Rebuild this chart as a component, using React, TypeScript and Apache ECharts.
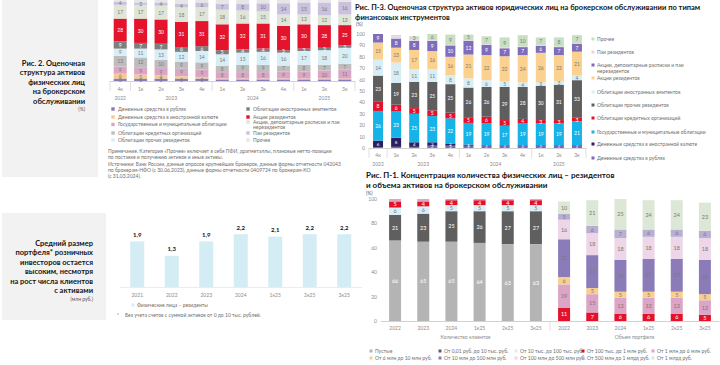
import React, { useEffect, useRef } from "react";
import * as echarts from "echarts";

const FONT = "Lato, 'Noto Sans', 'DejaVu Sans', sans-serif";
const GRAY_TXT = "#8c8c8c";
const DARK_TXT = "#151515";
const LIGHT_LBL = "#7a7a7a";

// ---------------- Fig. 2: structure of assets, individuals ----------------
const f2Cats = ["4к", "1к", "2к", "3к", "4к", "1к", "2к", "3к", "4к", "1к", "2к", "3к"];
const f2Years = ["2022", "2023", "2024", "2025"];
const f2YearGroups = [[0, 0], [1, 4], [5, 8], [9, 11]];
const f2Names = [
  "Денежные средства в рублях",
  "Денежные средства в иностранной валюте",
  "Государственные и муниципальные облигации",
  "Облигации кредитных организаций",
  "Облигации прочих резидентов",
  "Облигации иностранных эмитентов",
  "Акции резидентов",
  "Акции, депозитарные расписки и паи нерезидентов",
  "Паи резидентов",
  "Прочее",
];
const f2Colors = ["#8a7bb8", "#f7c98c", "#dba6c6", "#bdbdbd", "#d8eef6", "#7e7e7e", "#e3142c", "#dfe6d7", "#c9c1de", "#e6e6e6"];
const f2LabelColors = [LIGHT_LBL, LIGHT_LBL, LIGHT_LBL, LIGHT_LBL, LIGHT_LBL, "#ffffff", "#ffffff", LIGHT_LBL, LIGHT_LBL, LIGHT_LBL];
const f2MinLabel = [3, 4, 2, 2, 2, 2, 2, 2, 2, 99];
const f2Rub = [3, 3, 3, 3, 3, 2, 2, 2, 2, 2, 2, 2];
const f2Fx = [6, 5, 4, 3, 2, 1, 1, 1, 1, 1, 1, 1];
const f2Gov = [9, 9, 9, 9, 9, 8, 8, 8, 9, 9, 10, 11];
const f2Credit = [13, 12, 10, 9, 9, 8, 9, 9, 7, 8, 7, 7];
const f2OtherRes = [9, 11, 13, 12, 14, 14, 15, 16, 16, 17, 18, 20];
const f2Foreign = [9, 7, 7, 6, 6, 5, 4, 4, 3, 3, 3, 3];
const f2Shares = [28, 30, 30, 31, 31, 32, 32, 31, 30, 30, 28, 25];
const f2NonRes = [17, 17, 17, 18, 17, 18, 16, 15, 14, 12, 12, 13];
const f2Funds = [4, 3, 4, 4, 6, 7, 8, 10, 14, 15, 16, 16];
const f2Other = [2, 3, 3, 5, 3, 5, 5, 4, 4, 3, 3, 2];
const f2Data = [f2Rub, f2Fx, f2Gov, f2Credit, f2OtherRes, f2Foreign, f2Shares, f2NonRes, f2Funds, f2Other];
const f2Note = [
  "Примечание. Категория «Прочее» включает в себя ПФИ, драгметаллы, плановые нетто-позиции",
  "по поставке и получению активов и иные активы.",
  "Источники: Банк России, данные опросов крупнейших брокеров, данные формы отчетности 042043",
  "по брокерам-НФО (с 30.06.2023), данные формы отчетности 0409724 по брокерам-КО",
  "(с 31.03.2024).",
];
const f2Title = ["Рис. 2. Оценочная", "структура активов", "физических лиц", "на брокерском", "обслуживании"];

// ---------------- Average portfolio ----------------
const avgCats = ["2021", "2022", "2023", "2024", "1к25", "2к25", "3к25"];
const avgValues = [1.9, 1.3, 1.9, 2.2, 2.1, 2.2, 2.2];
const avgSeriesName = "Физические лица – резиденты";
const avgTitle = ["Средний размер", "портфеля* розничных", "инвесторов остается", "высоким, несмотря", "на рост числа клиентов", "с активами"];
const avgFootnote = "Без учета счетов с суммой активов от 0 до 10 тыс. рублей.";

// ---------------- Fig. П-3: legal entities ----------------
const p3Cats = ["4к", "1к", "2к", "3к", "4к", "1к", "2к", "3к", "4к", "1к", "2к", "3к"];
const p3Years = ["2022", "2023", "2024", "2025"];
const p3YearGroups = [[0, 0], [1, 4], [5, 8], [9, 11]];
const p3Names = [
  "Денежные средства в рублях",
  "Денежные средства в иностранной валюте",
  "Государственные и муниципальные облигации",
  "Облигации кредитных организаций",
  "Облигации прочих резидентов",
  "Облигации иностранных эмитентов",
  "Акции резидентов",
  "Акции, депозитарные расписки и паи нерезидентов",
  "Паи резидентов",
  "Прочее",
];
const p3Colors = ["#7b68b8", "#2c1f5f", "#15b3e8", "#e3122a", "#5e5e5e", "#d7eef7", "#fbd190", "#7f6cbb", "#ead5e8", "#c8dfc3"];
const p3LabelColors = ["#ffffff", "#ffffff", "#ffffff", "#ffffff", "#ffffff", LIGHT_LBL, LIGHT_LBL, "#ffffff", LIGHT_LBL, LIGHT_LBL];
const p3MinLabel = [2, 1, 1, 1, 1, 2, 2, 2, 3, 3];
const p3Rub = [0.5, 1, 1, 2, 2, 2, 2, 2, 2, 2, 2, 2];
const p3Fx = [6, 8, 4, 3, 2, 1, 0.5, 0.5, 0.5, 0.5, 0.5, 0.5];
const p3Gov = [26, 23, 25, 23, 22, 19, 19, 17, 19, 19, 19, 21];
const p3Credit = [8, 6, 5, 5, 5, 5, 6, 5, 4, 3, 3, 3];
const p3OtherRes = [23, 19, 23, 25, 25, 26, 26, 29, 28, 30, 31, 33];
const p3Foreign = [14, 18, 11, 11, 8, 8, 6, 5, 4, 3, 3, 4];
const p3Shares = [15, 13, 17, 16, 16, 21, 22, 22, 24, 26, 23, 21];
const p3NonRes = [9, 8, 8, 9, 10, 12, 9, 7, 7, 6, 7, 7];
const p3Funds = [0, 2, 1, 0.5, 0.5, 0.5, 0.5, 0.5, 0.5, 0.5, 0.5, 0.5];
const p3Other = [0, 1, 3, 6, 9, 5, 7, 9, 10, 7, 8, 7];
const p3Data = [p3Rub, p3Fx, p3Gov, p3Credit, p3OtherRes, p3Foreign, p3Shares, p3NonRes, p3Funds, p3Other];
const p3Title = [
  "Рис. П-3. Оценочная структура активов юридических лиц на брокерском обслуживании по типам",
  "финансовых инструментов",
];

// ---------------- Fig. П-1: concentration ----------------
const p1Cats = ["2022", "2023", "2024", "1к25", "2к25", "3к25"];
const p1Groups = ["Количество клиентов", "Объем портфеля"];
const p1Names = [
  "Пустые",
  "От 0,01 руб. до 10 тыс. руб.",
  "От 10 тыс. до 100 тыс. руб.",
  "От 100 тыс. до 1 млн руб.",
  "От 1 млн до 6 млн руб.",
  "От 6 млн до 10 млн руб.",
  "От 10 млн до 100 млн руб.",
  "От 100 млн до 500 млн руб.",
  "От 500 млн до 1 млрд руб.",
  "От 1 млрд руб.",
];
const p1Colors = ["#b4b4b4", "#5f5f5f", "#d9eef6", "#e3122a", "#dca4c6", "#f9cf8e", "#8b7cb9", "#edd6e8", "#b8afd3", "#dde7d6"];
const p1LabelColors = ["#ffffff", "#ffffff", LIGHT_LBL, "#ffffff", LIGHT_LBL, LIGHT_LBL, LIGHT_LBL, LIGHT_LBL, LIGHT_LBL, LIGHT_LBL];
// clients (left block)
const p1cEmpty = [66, 65, 65, 64, 63, 63];
const p1cTo10k = [21, 23, 25, 26, 27, 27];
const p1c10kTo100k = [6, 6, 5, 5, 5, 5];
const p1c100kTo1m = [5, 4, 4, 4, 4, 4];
const p1c1mTo6m = [2, 2, 1, 1, 1, 1];
// portfolio volume (right block)
const p1v100kTo1m = [11, 7, 6, 6, 6, 5];
const p1v1mTo6m = [19, 15, 13, 13, 13, 12];
const p1v6mTo10m = [6, 5, 5, 5, 5, 5];
const p1v10mTo100m = [31, 27, 26, 27, 27, 28];
const p1v100mTo500m = [16, 18, 18, 18, 18, 18];
const p1v500mTo1b = [5, 6, 7, 6, 6, 6];
const p1vOver1b = [10, 21, 25, 24, 24, 23];
const p1Title = [
  "Рис. П-1. Концентрация количества физических лиц – резидентов",
  "и объема активов на брокерском обслуживании",
];

const font = (size: number, bold = false) => `${bold ? "bold " : ""}${size}px ${FONT}`;

const txt = (x: number, y: number, text: string, size: number, o: any = {}) => ({
  type: "text",
  x,
  y,
  silent: true,
  z: 100,
  style: {
    text,
    fill: o.color ?? GRAY_TXT,
    font: font(size, o.bold),
    textAlign: o.align ?? "left",
    textVerticalAlign: o.valign ?? "middle",
    lineHeight: o.lineHeight,
  },
});

const marker = (x: number, y: number, color: string, s = 3.4) => ({
  type: "rect",
  silent: true,
  z: 100,
  shape: { x: x - s / 2, y: y - s / 2, width: s, height: s },
  style: { fill: color },
});

function stacked(names: string[], colors: string[], lblColors: string[], data: number[][], axis: number, stack: string, barWidth: number, minLabel: number[], fs: number | number[]) {
  return names.map((name, i) => ({
    type: "bar",
    name,
    stack,
    xAxisIndex: axis,
    yAxisIndex: axis,
    barWidth,
    data: data[i],
    silent: true,
    itemStyle: { color: colors[i] },
    label: {
      show: true,
      position: "inside",
      fontSize: Array.isArray(fs) ? fs[i] : fs,
      fontFamily: FONT,
      color: lblColors[i],
      formatter: (p: any) => (p.value >= minLabel[i] ? String(p.value) : ""),
    },
  }));
}

const catAxis = (grid: number, data: string[], margin: number, showLabel = true, lineColor = "#d2d2d2") => ({
  type: "category",
  gridIndex: grid,
  data,
  axisLine: { show: true, lineStyle: { color: lineColor, width: 1 } },
  axisTick: { show: false },
  axisLabel: { show: showLabel, fontSize: 5, color: GRAY_TXT, fontFamily: FONT, margin },
});

export default function App() {
  const ref = useRef<HTMLDivElement>(null);

  useEffect(() => {
    if (!ref.current) return;
    const chart = echarts.init(ref.current, undefined, { renderer: "svg" });

    const p1ClientData = [p1cEmpty, p1cTo10k, p1c10kTo100k, p1c100kTo1m, p1c1mTo6m];
    const p1VolData = [p1v100kTo1m, p1v1mTo6m, p1v6mTo10m, p1v10mTo100m, p1v100mTo500m, p1v500mTo1b, p1vOver1b];
    const p1Min = [3, 3, 3, 3, 3, 3, 3, 3, 3, 3];
    const p3Fs = [4.2, 4.5, 5, 5, 5, 5, 5, 5, 5, 5];

    const series: any[] = [
      ...stacked(f2Names, f2Colors, f2LabelColors, f2Data, 0, "f2", 13, f2MinLabel, 5),
      {
        type: "bar",
        name: avgSeriesName,
        xAxisIndex: 1,
        yAxisIndex: 1,
        barWidth: 14,
        silent: true,
        data: avgValues,
        itemStyle: { color: "#d4edf5" },
        label: {
          show: true,
          position: "top",
          distance: 4,
          fontSize: 6,
          fontWeight: "bold",
          fontFamily: FONT,
          color: DARK_TXT,
          formatter: (p: any) => String(p.value.toFixed(1)).replace(".", ","),
        },
      },
      ...stacked(p3Names, p3Colors, p3LabelColors, p3Data, 2, "p3", 10, p3MinLabel, p3Fs),
      ...stacked(p1Names.slice(0, 5), p1Colors.slice(0, 5), p1LabelColors.slice(0, 5), p1ClientData, 3, "p1c", 12, p1Min, 5.5),
      ...stacked(p1Names.slice(3), p1Colors.slice(3), p1LabelColors.slice(3), p1VolData, 4, "p1v", 12, p1Min, 5.5),
    ];

    chart.setOption({
      animation: false,
      backgroundColor: "#ffffff",
      textStyle: { fontFamily: FONT },
      grid: [
        { left: 110, top: 0, width: 245, height: 81 },
        { left: 120, top: 227, width: 241.5, height: 60 },
        { left: 369, top: 34, width: 217, height: 114 },
        { left: 381, top: 199, width: 169, height: 122 },
        { left: 550, top: 199, width: 169, height: 122 },
      ],
      xAxis: [
        catAxis(0, f2Cats, 5),
        catAxis(1, avgCats, 5, true, "#ececec"),
        catAxis(2, p3Cats, 4),
        catAxis(3, p1Cats, 4),
        catAxis(4, p1Cats, 4),
      ],
      yAxis: [
        { type: "value", gridIndex: 0, min: 0, max: 100, show: false },
        { type: "value", gridIndex: 1, min: 0, max: 2.5, show: false },
        {
          type: "value", gridIndex: 2, min: 0, max: 100, interval: 10,
          axisLine: { show: false }, axisTick: { show: false }, splitLine: { show: false },
          axisLabel: { fontSize: 5, color: GRAY_TXT, fontFamily: FONT, margin: 4 },
        },
        {
          type: "value", gridIndex: 3, min: 0, max: 100, interval: 20,
          axisLine: { show: false }, axisTick: { show: false }, splitLine: { show: false },
          axisLabel: { fontSize: 5, color: GRAY_TXT, fontFamily: FONT, margin: 4 },
        },
        { type: "value", gridIndex: 4, min: 0, max: 100, show: false },
      ],
      series,
    });

    // positions derived from the axes
    const px = (axis: number, v: number) => chart.convertToPixel({ xAxisIndex: axis }, v) as number;
    const py = (axis: number, v: number) => chart.convertToPixel({ yAxisIndex: axis }, v) as number;

    const g: any[] = [];
    // background panels
    g.push({ type: "rect", silent: true, z: 0, shape: { x: 2, y: 0, width: 96, height: 177 }, style: { fill: "#f2f2f2" } });
    g.push({ type: "rect", silent: true, z: 0, shape: { x: 2, y: 213, width: 104, height: 107 }, style: { fill: "#f2f2f2" } });

    // Fig 2 side title
    f2Title.forEach((t, i) => g.push(txt(85, 63 + i * 9.5, t, 7.5, { bold: true, align: "right", color: DARK_TXT })));
    g.push(txt(85, 108.5, "(%)", 5, { align: "right", color: "#555" }));

    // year labels + separators (Fig 2 and П-3)
    const years = (axis: number, labels: string[], groups: number[][], yLab: number, sepLen: number) => {
      const y0 = py(axis, 0);
      const half = (px(axis, 1) - px(axis, 0)) / 2;
      groups.forEach(([a, b], i) => {
        g.push(txt((px(axis, a) + px(axis, b)) / 2, yLab, labels[i], 5, { align: "center" }));
        const xs = px(axis, b) + half;
        g.push({ type: "line", silent: true, shape: { x1: xs, y1: y0, x2: xs, y2: y0 + sepLen }, style: { stroke: "#d2d2d2", lineWidth: 0.7 } });
      });
      const xl = px(axis, 0) - half;
      g.push({ type: "line", silent: true, shape: { x1: xl, y1: y0, x2: xl, y2: y0 + sepLen }, style: { stroke: "#d2d2d2", lineWidth: 0.7 } });
    };
    years(0, f2Years, f2YearGroups, 98, 10);
    years(2, p3Years, p3YearGroups, 164, 10);

    // Fig 2 legend
    const f2LegPos = [
      [113, 109], [113, 117], [113, 124.5], [113, 133], [113, 140],
      [248, 109], [248, 117], [248, 122], [248, 133], [248, 140],
    ];
    f2Names.forEach((n, i) => {
      const [x, y] = f2LegPos[i];
      g.push(marker(x, y, f2Colors[i]));
      const label = i === 7 ? "Акции, депозитарные расписки и паи\nнерезидентов" : n;
      g.push(txt(x + 5, y - 3, label, 5, { valign: "top", color: "#6e6e6e", lineHeight: 5.2 }));
    });
    f2Note.forEach((t, i) => g.push(txt(108, 151 + i * 6.3, t, 5, { color: "#6e6e6e" })));

    // Average portfolio block
    avgTitle.forEach((t, i) => g.push(txt(93, 243 + i * 9.5, t, 7.5, { bold: true, align: "right", color: DARK_TXT })));
    g.push(txt(93, 298.5, "(млн руб.)", 5, { align: "right", color: "#555" }));
    g.push(marker(133, 305, "#d4edf5", 3));
    g.push(txt(137, 305, avgSeriesName, 5, { color: "#6e6e6e" }));
    g.push(txt(117, 315, "*", 5, { color: "#6e6e6e" }));
    g.push(txt(125, 315, avgFootnote, 5, { color: "#6e6e6e" }));

    // П-3 title and legend
    p3Title.forEach((t, i) => g.push(txt(355, 7 + i * 10, t, 7.5, { bold: true, color: DARK_TXT })));
    g.push(txt(356, 24, "(%)", 5, { color: "#555" }));
    const p3LegY = [158, 144, 132, 118, 105, 92, 78, 65, 52, 39];
    p3Names.forEach((n, i) => {
      const y = p3LegY[i];
      g.push(marker(593, y, p3Colors[i], 3));
      const label = i === 7 ? "Акции, депозитарные расписки и паи\nнерезидентов" : n;
      g.push(txt(597, y - 3, label, 5, { valign: "top", color: "#6e6e6e", lineHeight: 6 }));
    });

    // П-1 title, group labels, legend
    p1Title.forEach((t, i) => g.push(txt(366, 175 + i * 10, t, 8, { bold: true, color: DARK_TXT })));
    g.push(txt(366, 193, "(%)", 5, { color: "#555" }));
    const base = py(3, 0);
    const groupCenter = (axis: number) => (px(axis, 0) + px(axis, p1Cats.length - 1)) / 2;
    g.push(txt(groupCenter(3), 337, p1Groups[0], 5, { align: "center" }));
    g.push(txt(groupCenter(4), 337, p1Groups[1], 5, { align: "center" }));
    const sepX = px(4, 0) - (px(4, 1) - px(4, 0)) / 2;
    g.push({ type: "line", silent: true, shape: { x1: sepX, y1: base, x2: sepX, y2: base + 10 }, style: { stroke: "#d2d2d2", lineWidth: 0.7 } });
    const p1ColX = [371, 440, 516, 583, 653];
    p1Names.forEach((n, i) => {
      const x = p1ColX[i % 5];
      const y = i < 5 ? 351 : 358;
      g.push(marker(x, y, p1Colors[i], 3));
      g.push(txt(x + 4, y, n, 5, { color: "#6e6e6e" }));
    });

    chart.setOption({ graphic: g });

    return () => chart.dispose();
  }, []);

  return <div ref={ref} style={{ position: "absolute", left: 0, top: 0, width: 720, height: 365 }} />;
}
